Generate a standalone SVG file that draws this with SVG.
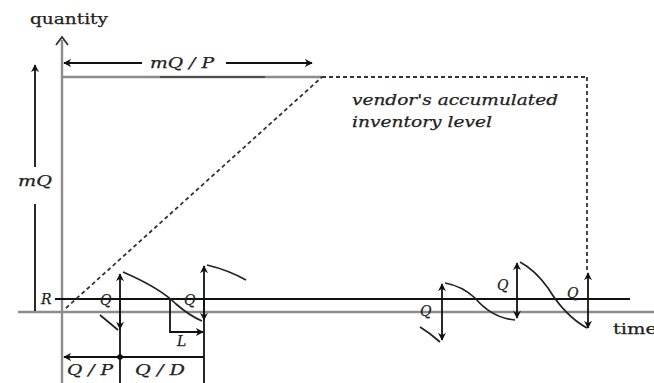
<svg xmlns="http://www.w3.org/2000/svg" width="654" height="383" viewBox="0 0 654 383">
<style>
.ax{stroke:#8c8c8c;stroke-width:2.4;fill:none}
.ln{stroke:#111;stroke-width:1.8;fill:none}
.cv{stroke:#222;stroke-width:1.7;fill:none}
.ds{stroke:#333;stroke-width:1.8;fill:none;stroke-dasharray:4 3}
.t{font-family:"DejaVu Serif","Liberation Serif",serif;font-size:14px;fill:#222;stroke:#222;stroke-width:0.25}
.m{font-family:"DejaVu Serif","Liberation Serif",serif;font-style:italic;font-size:14px;fill:#222;stroke:#222;stroke-width:0.25}
</style>
<defs>
<marker id="ah" viewBox="0 0 10 10" refX="9" refY="5" markerWidth="8" markerHeight="8" orient="auto-start-reverse" markerUnits="userSpaceOnUse">
<path d="M0,0 L10,5 L0,10 L3,5 z" fill="#111"/>
</marker>
</defs>
<rect width="654" height="383" fill="#fff"/>
<g id="axes">
<line class="ax" x1="62" y1="383" x2="62" y2="40"/>
<path d="M56,45 L62,37 L68,45" fill="none" stroke="#333" stroke-width="1.8"/>
<line class="ax" x1="18" y1="312" x2="654" y2="312"/>
<text class="t" x="30" y="24" textLength="78" lengthAdjust="spacingAndGlyphs">quantity</text>
<text class="t" x="613" y="334" textLength="44" lengthAdjust="spacingAndGlyphs">time</text>
</g>
<g id="connectors">
<line class="ln" x1="55" y1="299" x2="630" y2="299"/>
<line class="ax" x1="62" y1="77" x2="322" y2="77"/>
<line x1="160" y1="77" x2="265" y2="77" stroke="#111" stroke-width="1"/>
<line class="ds" x1="66" y1="308" x2="322" y2="77"/>
<line class="ds" x1="322" y1="77" x2="587" y2="77"/>
<line class="ds" x1="587" y1="77" x2="587" y2="272"/>
<line class="ln" x1="64" y1="63" x2="142" y2="63" marker-start="url(#ah)"/>
<line class="ln" x1="226" y1="63" x2="312" y2="63" marker-end="url(#ah)"/>
<line class="ln" x1="35" y1="167" x2="35" y2="65" marker-end="url(#ah)"/>
<line class="ln" x1="35" y1="204" x2="35" y2="311"/>
<line class="ln" x1="120" y1="274" x2="120" y2="383" marker-start="url(#ah)"/>
<line class="ln" x1="120" y1="300" x2="120" y2="329" marker-end="url(#ah)"/>
<line class="ln" x1="204" y1="266" x2="204" y2="383" marker-start="url(#ah)"/>
<line class="ln" x1="204" y1="300" x2="204" y2="320" marker-end="url(#ah)"/>
<line class="ln" x1="170" y1="299" x2="170" y2="333"/>
<line class="ln" x1="170" y1="332" x2="203" y2="332" marker-end="url(#ah)"/>
<line class="ln" x1="64" y1="357" x2="204" y2="357" marker-start="url(#ah)"/>
<circle cx="120" cy="357" r="2.8" fill="#111"/>
<path class="cv" d="M100,315 L118,330"/>
<path class="cv" d="M123,272 Q160,288 176,304 Q190,316 202,321"/>
<path class="cv" d="M207,265 Q228,270 246,280"/>
<line class="ln" x1="442" y1="284" x2="442" y2="340" marker-start="url(#ah)" marker-end="url(#ah)"/>
<line class="ln" x1="517" y1="263" x2="517" y2="318" marker-start="url(#ah)" marker-end="url(#ah)"/>
<line class="ln" x1="588" y1="273" x2="588" y2="328" marker-start="url(#ah)" marker-end="url(#ah)"/>
<path class="cv" d="M420,327 Q430,333 440,342"/>
<path class="cv" d="M445,283 Q462,286 475,298 Q492,318 515,320"/>
<path class="cv" d="M520,262 Q535,270 548,288 Q565,316 587,328"/>
</g>
<g id="labels">
<text class="m" x="150" y="68" textLength="64" lengthAdjust="spacingAndGlyphs">mQ / P</text>
<text class="m" x="18" y="186" textLength="34" lengthAdjust="spacingAndGlyphs">mQ</text>
<text class="m" x="41" y="304">R</text>
<text class="m" x="100" y="305" font-size="15">Q</text>
<text class="m" x="184" y="305" font-size="15">Q</text>
<text class="m" x="177" y="346">L</text>
<text class="m" x="67" y="375" textLength="46" lengthAdjust="spacingAndGlyphs">Q / P</text>
<text class="m" x="135" y="375" textLength="50" lengthAdjust="spacingAndGlyphs">Q / D</text>
<text class="m" x="420" y="316" font-size="15">Q</text>
<text class="m" x="497" y="290" font-size="15">Q</text>
<text class="m" x="567" y="298" font-size="15">Q</text>
<text class="m" x="352" y="105" textLength="206" lengthAdjust="spacingAndGlyphs">vendor's accumulated</text>
<text class="m" x="352" y="127" textLength="140" lengthAdjust="spacingAndGlyphs">inventory level</text>
</g>
</svg>
